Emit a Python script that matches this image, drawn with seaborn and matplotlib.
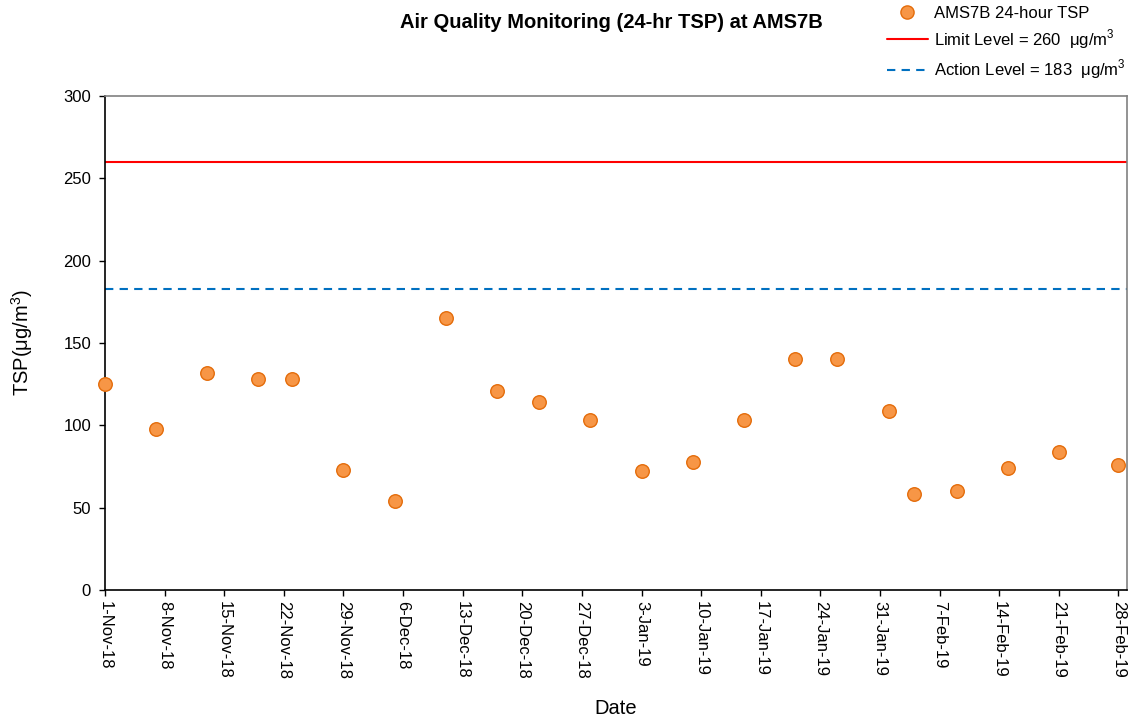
"""Recreate the AMS7B 24-hr TSP monitoring chart."""

import matplotlib

matplotlib.use("Agg")
import matplotlib.pyplot as plt
import pandas as pd
import seaborn as sns
from matplotlib.lines import Line2D


DATES = [
    "2018-11-01", "2018-11-07", "2018-11-13", "2018-11-19", "2018-11-23",
    "2018-11-29", "2018-12-05", "2018-12-11", "2018-12-17", "2018-12-22",
    "2018-12-28", "2019-01-03", "2019-01-09", "2019-01-15", "2019-01-21",
    "2019-01-26", "2019-02-01", "2019-02-04", "2019-02-09", "2019-02-15",
    "2019-02-21", "2019-02-28",
]
TSP = [125, 98, 132, 128, 128, 73, 54, 165, 121, 114, 103, 72, 78, 103,
       140, 140, 109, 58, 60, 74, 84, 76]
LIMIT_LEVEL = 260
ACTION_LEVEL = 183
TICK_START = "2018-11-01"
TICK_END = "2019-02-28"

UNIT = r"μg/m$^{\mathregular{3}}$"


def main() -> None:
    sns.set_theme(style="white")
    plt.rcParams["font.family"] = ["Liberation Sans", "DejaVu Sans"]
    plt.rcParams["mathtext.fontset"] = "custom"
    plt.rcParams["mathtext.rm"] = "Liberation Sans"
    for key in ("text.color", "axes.labelcolor", "xtick.color", "ytick.color"):
        plt.rcParams[key] = "black"

    df = pd.DataFrame({"date": pd.to_datetime(DATES), "tsp": TSP})

    fig = plt.figure(figsize=(11.42, 7.22), dpi=100)
    ax = fig.add_axes([105 / 1142, 1 - 590 / 722, (1127 - 105) / 1142, (590 - 96) / 722])

    ax.axhline(LIMIT_LEVEL, color="#FF0000", linewidth=1.5, zorder=1)
    ax.axhline(ACTION_LEVEL, color="#0070C0", linewidth=1.5, linestyle=(0, (4, 3)), zorder=1)
    sns.scatterplot(data=df, x="date", y="tsp", ax=ax, s=95, color="#F79646",
                    edgecolor="#E46C0A", linewidth=1.0, zorder=3, clip_on=False)

    ax.set_xlim(pd.Timestamp("2018-11-01"), pd.Timestamp("2019-03-01"))
    ax.set_ylim(0, 300)
    ax.set_yticks(range(0, 301, 50))
    ticks = pd.date_range(TICK_START, TICK_END, freq="7D")
    ax.set_xticks(ticks)
    ax.set_xticklabels([f"{d.day}-{d.strftime('%b-%y')}" for d in ticks],
                       rotation=-90, ha="center", va="top", fontsize=12)
    ax.tick_params(axis="y", labelsize=12, pad=6)
    ax.tick_params(axis="x", pad=4)
    ax.tick_params(axis="both", direction="out", length=4, width=1, color="black",
                   bottom=True, left=True)

    for side in ("left", "bottom"):
        ax.spines[side].set_color("black")
        ax.spines[side].set_linewidth(1.2)
    for side in ("top", "right"):
        ax.spines[side].set_color("#808080")
        ax.spines[side].set_linewidth(1.2)

    ax.set_xlabel("Date", fontsize=14.5, labelpad=14)
    ax.set_ylabel(f"TSP({UNIT})", fontsize=14.5, labelpad=20)
    fig.text(611 / 1142, 1 - 22 / 722, "Air Quality Monitoring (24-hr TSP) at AMS7B",
             ha="center", va="center", fontsize=14.5, fontweight="bold")

    handles = [
        Line2D([], [], marker="o", linestyle="none", markersize=9.5,
               markerfacecolor="#F79646", markeredgecolor="#E46C0A"),
        Line2D([], [], color="#FF0000", linewidth=1.5),
        Line2D([], [], color="#0070C0", linewidth=1.5, linestyle=(0, (4, 3))),
    ]
    labels = [
        "AMS7B 24-hour TSP",
        f"Limit Level = {LIMIT_LEVEL}  {UNIT}",
        f"Action Level = {ACTION_LEVEL}  {UNIT}",
    ]
    fig.legend(handles, labels, loc="upper right", bbox_to_anchor=(1128 / 1142, 1 - 4 / 722),
               frameon=False, fontsize=12, handlelength=2.45, handletextpad=0.4,
               labelspacing=0.4, borderaxespad=0.0, borderpad=0.1)

    fig.savefig("out.png", dpi=100)
    plt.close(fig)


if __name__ == "__main__":
    main()
